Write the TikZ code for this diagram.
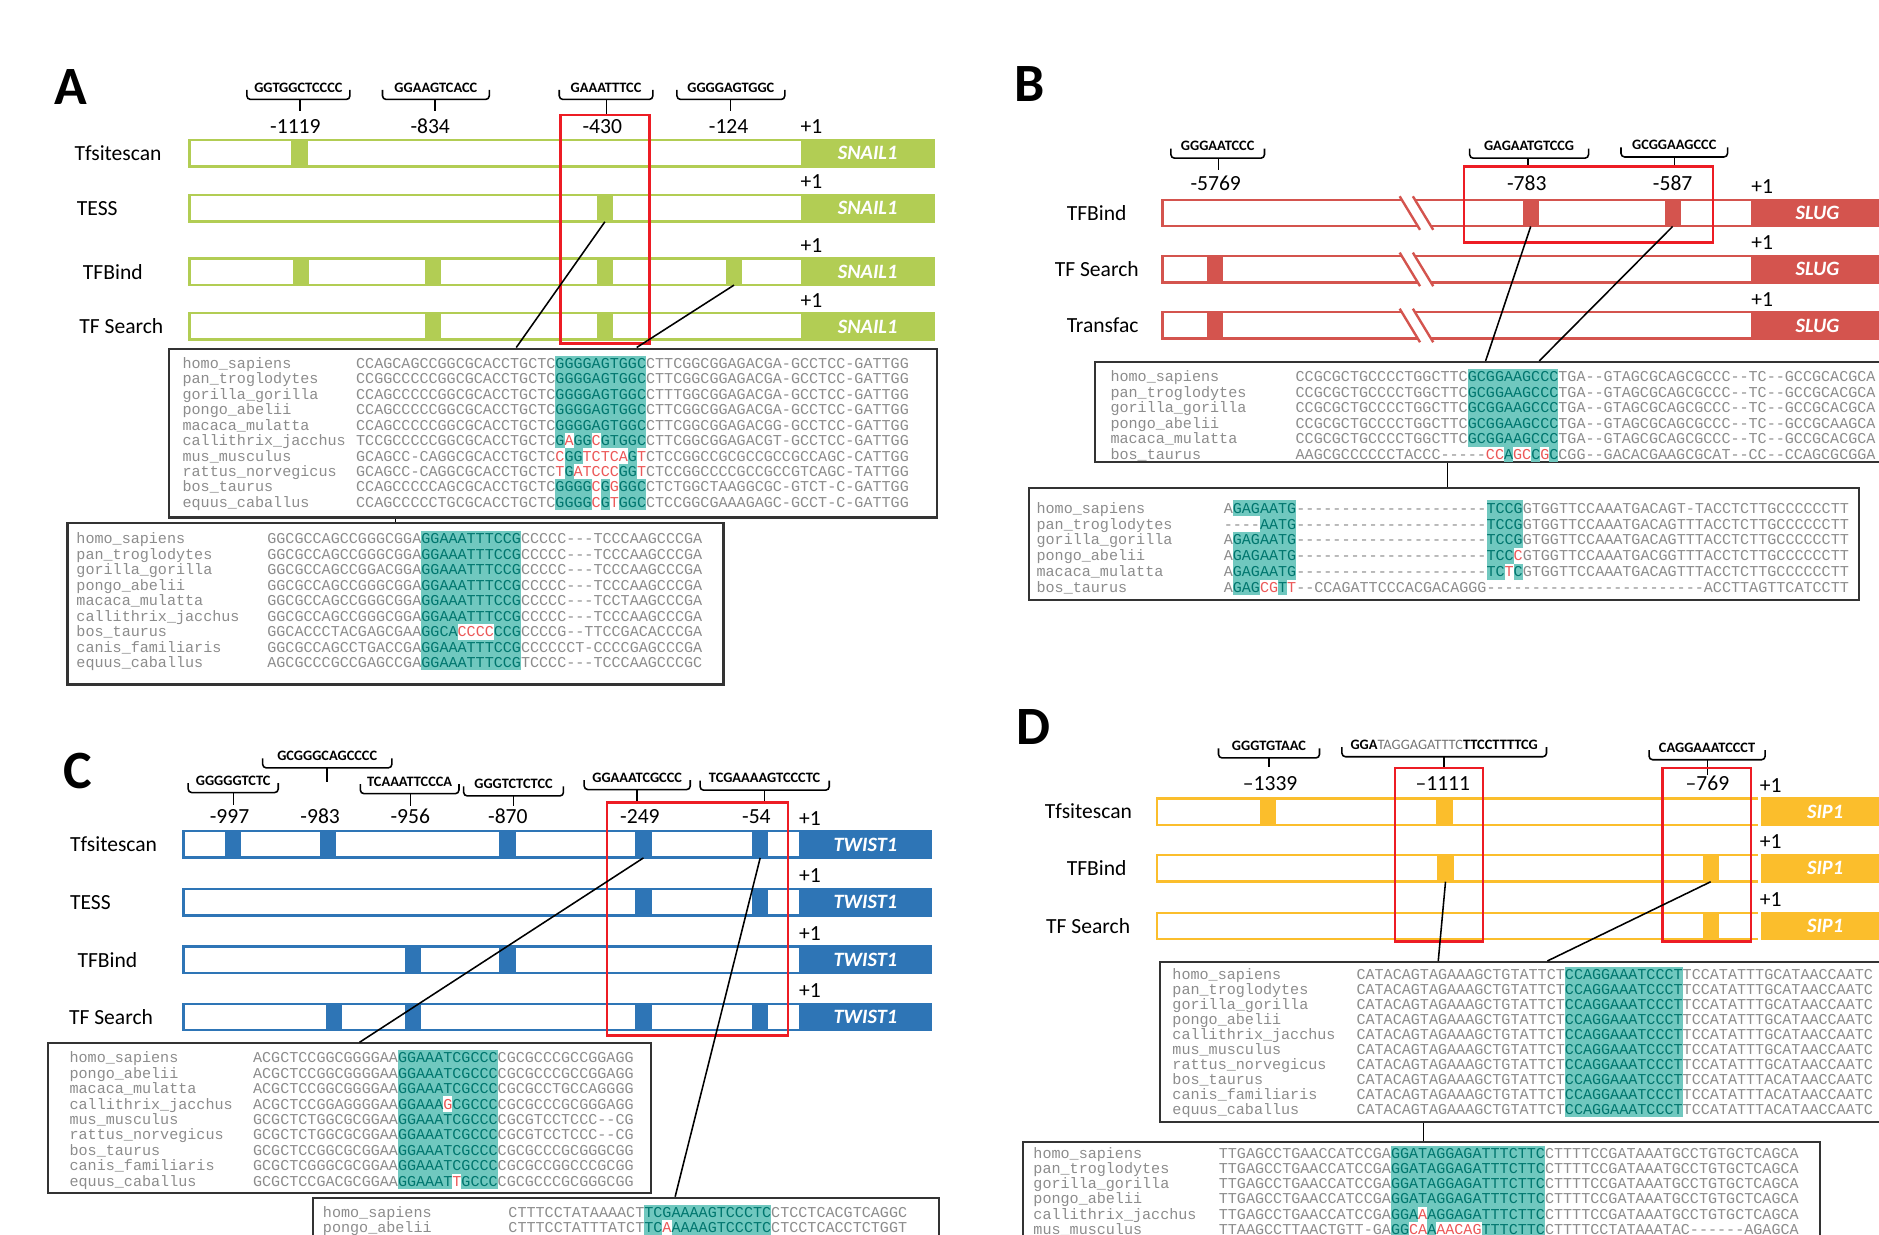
\documentclass[tikz,border=0pt]{standalone}
\usepackage{fontspec}
\setmainfont{Carlito}
\setmonofont{Liberation Mono}
\usetikzlibrary{positioning,calc}
\definecolor{snail}{RGB}{178,205,84}
\definecolor{slug}{RGB}{212,84,78}
\definecolor{twist}{RGB}{46,117,182}
\definecolor{sip}{RGB}{251,190,44}
\definecolor{boxred}{RGB}{237,28,36}
\definecolor{hlbg}{RGB}{112,200,191}
\definecolor{hltx}{RGB}{0,118,110}
\definecolor{seqgray}{RGB}{140,140,140}
\definecolor{misred}{RGB}{236,88,88}
\newlength\rowht \newlength\rowdp
\newcommand{\hlb}[1]{{\setlength{\fboxsep}{0pt}\colorbox{hlbg}{\rule[-\rowdp]{0pt}{\dimexpr\rowht+\rowdp\relax}\textcolor{hltx}{#1}}}}
\newcommand{\mis}[1]{\textcolor{misred}{#1}}
% bracket over a binding site: name, x1, x2, stem x, label y, stem end y, label
\newcommand{\siteb}[7]{%
  \node[motif] (#1) at ({(#2+#3)/2},#5) {#7};
  \draw[brace] ({#2},{#5+2}) -- ({#2},{#5+10}) -- ({#3},{#5+10}) -- ({#3},{#5+2});
  \draw[brace] ({#4},{#5+10}) -- ({#4},{#6});
}
\tikzstyle{bar} = [rectangle, line width=2pt, fill=white, minimum height=22pt, inner sep=0pt, anchor=west]
\tikzstyle{gene} = [rectangle, line width=2pt, minimum height=22pt, inner sep=0pt, anchor=east, text=white, font=\fontsize{17}{17}\selectfont\bfseries\itshape]
\tikzstyle{site} = [rectangle, minimum width=13.5pt, minimum height=22pt, inner sep=0pt, anchor=west]
\tikzstyle{tool} = [anchor=west, inner sep=0pt, font=\fontsize{18}{18}\selectfont]
\tikzstyle{posnum} = [inner sep=0pt, font=\fontsize{18}{18}\selectfont]
\tikzstyle{plusone} = [anchor=south west, inner sep=0pt, yshift=4pt, font=\fontsize{18}{18}\selectfont]
\tikzstyle{motif} = [inner sep=0pt, font=\fontsize{12}{12}\selectfont\bfseries]
\tikzstyle{panel} = [anchor=north west, inner sep=0pt, font=\fontsize{45}{45}\selectfont\bfseries]
\tikzstyle{brace} = [line width=1.3pt, rounded corners=3pt]
\tikzstyle{hit} = [draw=boxred, line width=2pt]
\tikzstyle{link} = [line width=1.3pt]
\tikzstyle{alnbox} = [rectangle, draw=black!80, line width=1.8pt, fill=white, inner sep=0pt, anchor=north west]
\tikzstyle{seqrow} = [anchor=base west, inner sep=0pt, text=seqgray, font=\ttfamily\fontsize{12.6}{12.6}\selectfont]
\begin{document}
\begin{tikzpicture}[x=1pt,y=-1pt]
\useasboundingbox (0,0) rectangle (1568,1030);
\clip (0,0) rectangle (1568,1030);

% ---------- A: SNAIL1
\node[panel] (pA) at (45,58) {A};
\siteb{aM1}{206}{292}{250.3}{73}{93}{GGTGGCTCCCC}
\siteb{aM2}{319.2}{408.3}{362.8}{73}{93}{GGAAGTCACC}
\siteb{aM3}{466.7}{544.8}{506}{73}{96}{GAAATTTCC}
\siteb{aM4}{564.9}{654.9}{609.4}{73}{93}{GGGGAGTGGC}
\node[posnum] (aN1) at (246.5,105.7) {-1119};
\node[posnum] (aN2) at (359,105.7) {-834};
\node[posnum] (aN3) at (502.6,105.7) {-430};
\node[posnum] (aN4) at (608,105.7) {-124};
\node[tool] (aL1) at (62,127.9) {Tfsitescan};
\node[tool] (aL2) at (64,173.9) {TESS};
\node[tool] (aL3) at (69,226.7) {TFBind};
\node[tool] (aL4) at (66,272.4) {TF Search};
\foreach \y [count=\i] in {127.9,173.9,226.7,272.4} {
  \node[bar, draw=snail, minimum width=621pt] (aT\i) at (157,\y) {};
  \node[gene, fill=snail, draw=snail, minimum width=110pt] (aG\i) at (aT\i.east) {SNAIL1};
  \node[plusone] (aO\i) at (aG\i.north west) {+1};
}
\node[site, fill=snail] (aS11) at (243,127.9) {};
\node[site, fill=snail] (aS21) at (497.8,173.9) {};
\foreach \x [count=\k] in {244,354.2,497.8,605.6} \node[site, fill=snail] (aS3\k) at (\x,226.7) {};
\foreach \x [count=\k] in {354.2,497.8} \node[site, fill=snail] (aS4\k) at (\x,272.4) {};
\draw[hit] (467.7,96) rectangle (541.9,286.5);
\node[alnbox, minimum width=641pt, minimum height=141pt] (aA1) at (140,290) {};
\node[alnbox, minimum width=547.4pt, minimum height=135pt] (aA2) at (55.4,435.3) {};
\coordinate (aC1) at (430.8,290);
\coordinate (aC2) at (531.3,290);
\coordinate (aC3) at (330,0);
\draw[link] (aS21.south) -- (aC1);
\draw[link] (aS34.south) -- (aC2);
\draw[link] (aA1.south -| aC3) -- (aA2.north -| aC3);
\setlength\rowht{10.6pt}\setlength\rowdp{2.3pt}
\foreach \nm/\seqs [count=\i from 0] in {
  homo\_sapiens/{CCAGCAGCCGGCGCACCTGCTC\hlb{GGGGAGTGGC}CTTCGGCGGAGACGA-GCCTCC-GATTGG},
  pan\_troglodytes/{CCGGCCCCCGGCGCACCTGCTC\hlb{GGGGAGTGGC}CTTCGGCGGAGACGA-GCCTCC-GATTGG},
  gorilla\_gorilla/{CCAGCCCCCGGCGCACCTGCTC\hlb{GGGGAGTGGC}CTTTGGCGGAGACGA-GCCTCC-GATTGG},
  pongo\_abelii/{CCAGCCCCCGGCGCACCTGCTC\hlb{GGGGAGTGGC}CTTCGGCGGAGACGA-GCCTCC-GATTGG},
  macaca\_mulatta/{CCAGCCCCCGGCGCACCTGCTC\hlb{GGGGAGTGGC}CTTCGGCGGAGACGG-GCCTCC-GATTGG},
  callithrix\_jacchus/{TCCGCCCCCGGCGCACCTGCTC\hlb{G}\mis{A}\hlb{GG}\mis{C}\hlb{GTGGC}CTTCGGCGGAGACGT-GCCTCC-GATTGG},
  mus\_musculus/{GCAGCC-CAGGCGCACCTGCTC\mis{C}\hlb{GG}\mis{TCTCA}\hlb{G}\mis{T}CTCCGGCCGCGCCGCCGCCAGC-CATTGG},
  rattus\_norvegicus/{GCAGCC-CAGGCGCACCTGCTC\mis{T}\hlb{G}\mis{ATCCC}\hlb{GG}\mis{T}CTCCGGCCCCGCCGCCGTCAGC-TATTGG},
  bos\_taurus/{CCAGCCCCCAGCGCACCTGCTC\hlb{GGGG}\mis{C}\hlb{G}\mis{G}\hlb{GGC}CTCTGGCTAAGGCGC-GTCT-C-GATTGG},
  equus\_caballus/{CCAGCCCCCTGCGCACCTGCTC\hlb{GGGG}\mis{C}\hlb{G}\mis{T}\hlb{GGC}CTCCGGCGAAAGAGC-GCCT-C-GATTGG}} {
  \node[seqrow] (aA1n\i) at (152.2,{307.35+12.9*\i}) {\nm};
  \node[seqrow] (aA1s\i) at (297,{307.35+12.9*\i}) {\seqs};
}
\foreach \nm/\seqs [count=\i from 0] in {
  homo\_sapiens/{GGCGCCAGCCGGGCGGA\hlb{GGAAATTTCCG}CCCCC---TCCCAAGCCCGA},
  pan\_troglodytes/{GGCGCCAGCCGGGCGGA\hlb{GGAAATTTCCG}CCCCC---TCCCAAGCCCGA},
  gorilla\_gorilla/{GGCGCCAGCCGGACGGA\hlb{GGAAATTTCCG}CCCCC---TCCCAAGCCCGA},
  pongo\_abelii/{GGCGCCAGCCGGGCGGA\hlb{GGAAATTTCCG}CCCCC---TCCCAAGCCCGA},
  macaca\_mulatta/{GGCGCCAGCCGGGCGGA\hlb{GGAAATTTCCG}CCCCC---TCCTAAGCCCGA},
  callithrix\_jacchus/{GGCGCCAGCCGGGCGGA\hlb{GGAAATTTCCG}CCCCC---TCCCAAGCCCGA},
  bos\_taurus/{GGCACCCTACGAGCGAA\hlb{GGCA}\mis{CCCC}\hlb{CCG}CCCCG--TTCCGACACCCGA},
  canis\_familiaris/{GGCGCCAGCCTGACCGA\hlb{GGAAATTTCCG}CCCCCCT-CCCCGAGCCCGA},
  equus\_caballus/{AGCGCCCGCCGAGCCGA\hlb{GGAAATTTCCG}TCCCC---TCCCAAGCCCGC}} {
  \node[seqrow] (aA2n\i) at (63.6,{453.95+12.9*\i}) {\nm};
  \node[seqrow] (aA2s\i) at (222.9,{453.95+12.9*\i}) {\seqs};
}

% ---------- B: SLUG
\node[panel] (pB) at (846,55) {B};
\siteb{bM1}{977.1}{1055.2}{1016.8}{122}{142}{GGGAATCCC}
\siteb{bM2}{1226.4}{1325.6}{1275.1}{122}{139}{GAGAATGTCCG}
\siteb{bM3}{1352.7}{1441.6}{1397.2}{121}{139}{GCGGAAGCCC}
\node[posnum] (bN1) at (1014.5,153) {-5769};
\node[posnum] (bN2) at (1274.1,153) {-783};
\node[posnum] (bN3) at (1395.8,153) {-587};
\node[tool] (bL1) at (890,177.8) {TFBind};
\node[tool] (bL2) at (880,224.8) {TF Search};
\node[tool] (bL3) at (890,271.6) {Transfac};
\foreach \y [count=\i] in {177.8,224.8,271.6} {
  \node[bar, draw=slug, minimum width=600.9pt] (bT\i) at (969.1,\y) {};
  \node[gene, fill=slug, draw=slug, minimum width=108.7pt] (bG\i) at (bT\i.east) {SLUG};
  \node[plusone] (bO\i) at (bG\i.north west) {+1};
  \fill[white] (1168,{\y-14}) -- (1179,{\y-14}) -- (1196,{\y+14}) -- (1185,{\y+14}) -- cycle;
  \draw[slug, line width=2pt] (1168,{\y-14}) -- (1185,{\y+14}) (1179,{\y-14}) -- (1196,{\y+14});
}
\node[site, fill=slug] (bS11) at (1270.4,177.8) {};
\node[site, fill=slug] (bS12) at (1388.8,177.8) {};
\node[site, fill=slug] (bS21) at (1006.6,224.8) {};
\node[site, fill=slug] (bS31) at (1006.6,271.6) {};
\draw[hit] (1221.7,139.1) rectangle (1429.4,202.5);
\node[alnbox, minimum width=707pt, minimum height=83.5pt] (bA1) at (912.8,301.2) {};
\node[alnbox, minimum width=692.6pt, minimum height=94pt] (bA2) at (858,406.1) {};
\coordinate (bC1) at (1239.7,301.2);
\coordinate (bC2) at (1284.5,301.2);
\coordinate (bC3) at (1208,0);
\draw[link] (bS11.south) -- (bC1);
\draw[link] (bS12.south) -- (bC2);
\draw[link] (bA1.south -| bC3) -- (bA2.north -| bC3);
\setlength\rowht{10.63pt}\setlength\rowdp{2.33pt}
\foreach \nm/\seqs [count=\i from 0] in {
  homo\_sapiens/{CCGCGCTGCCCCTGGCTTC\hlb{GCGGAAGCCC}TGA--GTAGCGCAGCGCCC--TC--GCCGCACGCA},
  pan\_troglodytes/{CCGCGCTGCCCCTGGCTTC\hlb{GCGGAAGCCC}TGA--GTAGCGCAGCGCCC--TC--GCCGCACGCA},
  gorilla\_gorilla/{CCGCGCTGCCCCTGGCTTC\hlb{GCGGAAGCCC}TGA--GTAGCGCAGCGCCC--TC--GCCGCACGCA},
  pongo\_abelii/{CCGCGCTGCCCCTGGCTTC\hlb{GCGGAAGCCC}TGA--GTAGCGCAGCGCCC--TC--GCCGCAAGCA},
  macaca\_mulatta/{CCGCGCTGCCCCTGGCTTC\hlb{GCGGAAGCCC}TGA--GTAGCGCAGCGCCC--TC--GCCGCACGCA},
  bos\_taurus/{AAGCGCCCCCCTACCC-----\mis{CC}\hlb{A}\mis{GC}\hlb{C}\mis{G}\hlb{C}CGG--GACACGAAGCGCAT--CC--CCAGCGCGGA}} {
  \node[seqrow] (bA1n\i) at (926.5,{318.45+12.96*\i}) {\nm};
  \node[seqrow] (bA1s\i) at (1081,{318.45+12.96*\i}) {\seqs};
}
\setlength\rowht{10.75pt}\setlength\rowdp{2.45pt}
\foreach \nm/\seqs [count=\i from 0] in {
  homo\_sapiens/{A\hlb{GAGAATG}---------------------\hlb{TCCG}GTGGTTCCAAATGACAGT-TACCTCTTGCCCCCCTT},
  pan\_troglodytes/{----\hlb{AATG}---------------------\hlb{TCCG}GTGGTTCCAAATGACAGTTTACCTCTTGCCCCCCTT},
  gorilla\_gorilla/{A\hlb{GAGAATG}---------------------\hlb{TCCG}GTGGTTCCAAATGACAGTTTACCTCTTGCCCCCCTT},
  pongo\_abelii/{A\hlb{GAGAATG}---------------------\hlb{TCC}\mis{C}GTGGTTCCAAATGACGGTTTACCTCTTGCCCCCCTT},
  macaca\_mulatta/{A\hlb{GAGAATG}---------------------\hlb{TC}\mis{T}\hlb{C}GTGGTTCCAAATGACAGTTTACCTCTTGCCCCCCTT},
  bos\_taurus/{A\hlb{GAG}\mis{CG}\hlb{T}\mis{T}--CCAGATTCCCACGACAGGG------------------------ACCTTAGTTCATCCTT}} {
  \node[seqrow] (bA2n\i) at (864.8,{428.35+13.2*\i}) {\nm};
  \node[seqrow] (bA2s\i) at (1021,{428.35+13.2*\i}) {\seqs};
}

% ---------- C: TWIST1
\node[panel] (pC) at (52.6,628) {C};
\siteb{cM1}{157}{232.2}{194.8}{651.4}{671.7}{GGGGGTCTC}
\siteb{cM2}{219.2}{327}{272.9}{630.8}{652.3}{GCGGGCAGCCCC}
\siteb{cM3}{300.7}{383}{342.4}{652.3}{672.6}{TCAAATTCCCA}
\siteb{cM4}{386.9}{470.2}{428.6}{654.2}{672.6}{GGGTCTCTCC}
\siteb{cM5}{487.5}{576}{531.5}{648.9}{669.8}{GGAAATCGCCC}
\siteb{cM6}{584.2}{692}{637.9}{649.4}{669.8}{TCGAAAAGTCCCTC}
\node[posnum] (cN1) at (191.5,681.5) {-997};
\node[posnum] (cN2) at (267.2,681.5) {-983};
\node[posnum] (cN3) at (342.4,681.5) {-956};
\node[posnum] (cN4) at (423.8,681.5) {-870};
\node[posnum] (cN5) at (534,681.5) {-249};
\node[posnum] (cN6) at (631.2,681.5) {-54};
\node[tool] (cL1) at (58.3,704.7) {Tfsitescan};
\node[tool] (cL2) at (58.3,752.8) {TESS};
\node[tool] (cL3) at (64.5,800.8) {TFBind};
\node[tool] (cL4) at (57.4,848.7) {TF Search};
\foreach \y [count=\i] in {704.7,752.8,800.8,848.7} {
  \node[bar, draw=twist, minimum width=623.6pt] (cT\i) at (152.2,\y) {};
  \node[gene, fill=twist, draw=twist, minimum width=109.2pt] (cG\i) at (cT\i.east) {TWIST1};
  \node[plusone] (cO\i) at (cG\i.north west) {+1};
}
\foreach \x [count=\k] in {187.6,266.7,416.6,530,627.4} \node[site, fill=twist] (cS1\k) at (\x,704.7) {};
\foreach \x [count=\k] in {530,627.4} \node[site, fill=twist] (cS2\k) at (\x,752.8) {};
\foreach \x [count=\k] in {338,416.6} \node[site, fill=twist] (cS3\k) at (\x,800.8) {};
\foreach \x [count=\k] in {271.9,338,530,627.4} \node[site, fill=twist] (cS4\k) at (\x,848.7) {};
\draw[hit] (506.7,669.8) rectangle (657.5,864);
\node[alnbox, minimum width=503.1pt, minimum height=124.6pt] (cA1) at (39.5,869.8) {};
\node[alnbox, minimum width=523pt, minimum height=120pt] (cA2) at (260,998.6) {};
\coordinate (cC1) at (300,869.8);
\coordinate (cC2) at (563.4,998.6);
\draw[link] (cS14.south) -- (cC1);
\draw[link] (cS15.south) -- (cC2);
\setlength\rowht{10.6pt}\setlength\rowdp{2.3pt}
\foreach \nm/\seqs [count=\i from 0] in {
  homo\_sapiens/{ACGCTCCGGCGGGGAA\hlb{GGAAATCGCCC}CGCGCCCGCCGGAGG},
  pongo\_abelii/{ACGCTCCGGCGGGGAA\hlb{GGAAATCGCCC}CGCGCCCGCCGGAGG},
  macaca\_mulatta/{ACGCTCCGGCGGGGAA\hlb{GGAAATCGCCC}CGCGCCTGCCAGGGG},
  callithrix\_jacchus/{ACGCTCCGGAGGGGAA\hlb{GGAAA}\mis{G}\hlb{CGCCC}CGCGCCCGCGGGAGG},
  mus\_musculus/{GCGCTCTGGCGCGGAA\hlb{GGAAATCGCCC}CGCGTCCTCCC--CG},
  rattus\_norvegicus/{GCGCTCTGGCGCGGAA\hlb{GGAAATCGCCC}CGCGTCCTCCC--CG},
  bos\_taurus/{GCGCTCCGGCGCGGAA\hlb{GGAAATCGCCC}CGCGCCCGCGGGCGG},
  canis\_familiaris/{GCGCTCGGGCGCGGAA\hlb{GGAAATCGCCC}CGCGCCGGCCCGCGG},
  equus\_caballus/{GCGCTCCGACGCGGAA\hlb{GGAAAT}\mis{T}\hlb{GCCC}CGCGCCCGCGGGCGG}} {
  \node[seqrow] (cA1n\i) at (57.9,{886.75+12.9*\i}) {\nm};
  \node[seqrow] (cA1s\i) at (211,{886.75+12.9*\i}) {\seqs};
}
\setlength\rowht{10.4pt}\setlength\rowdp{2.1pt}
\foreach \nm/\seqs [count=\i from 0] in {
  homo\_sapiens/{CTTTCCTATAAAACT\hlb{TCGAAAAGTCCCTC}CTCCTCACGTCAGGC},
  pongo\_abelii/{CTTTCCTATTTATCT\hlb{TC}\mis{A}\hlb{AAAAGTCCCTC}CTCCTCACCTCTGGT}} {
  \node[seqrow] (cA2n\i) at (269.3,{1016.05+12.5*\i}) {\nm};
  \node[seqrow] (cA2s\i) at (424.1,{1016.05+12.5*\i}) {\seqs};
}

% ---------- D: SIP1
\node[panel] (pD) at (848,592) {D};
\siteb{dM1}{1016.8}{1101.1}{1059}{622.5}{640}{GGGTGTAAC}
\siteb{dM2}{1119.8}{1290.5}{1204.9}{621.5}{641.1}{GGA{\mdseries\color{black!55}TAGGAGATTTC}TTCCTTTTCG}
\siteb{dM3}{1376.1}{1473}{1424.8}{624}{646.7}{CAGGAAATCCCT}
\node[posnum] (dN1) at (1059.9,653.7) {–1339};
\node[posnum] (dN2) at (1204,653.7) {–1111};
\node[posnum] (dN3) at (1424.8,653.7) {–769};
\node[tool] (dL1) at (871.8,677.3) {Tfsitescan};
\node[tool] (dL2) at (890,724.6) {TFBind};
\node[tool] (dL3) at (872.8,772.7) {TF Search};
\foreach \y [count=\i] in {677.3,724.6,772.7} {
  \node[bar, draw=sip, minimum width=611.3pt] (dT\i) at (964.4,\y) {};
  \node[gene, fill=sip, draw=sip, minimum width=107.4pt] (dG\i) at (dT\i.east) {SIP1};
  \draw[white, line width=2pt] (dG\i.north west) -- (dG\i.south west);
  \node[plusone] (dO\i) at (dG\i.north west) {+1};
}
\node[site, fill=sip] (dS11) at (1051,677.3) {};
\node[site, fill=sip] (dS12) at (1198.4,677.3) {};
\node[site, fill=sip] (dS21) at (1199.3,724.6) {};
\node[site, fill=sip] (dS22) at (1420.6,724.6) {};
\node[site, fill=sip] (dS31) at (1420.6,772.7) {};
\draw[hit] (1164.2,641.1) rectangle (1237.6,785.8);
\draw[hit] (1387.3,641.1) rectangle (1461.3,785.8);
\node[alnbox, minimum width=650pt, minimum height=133.5pt] (dA1) at (967.4,801.9) {};
\node[alnbox, minimum width=665pt, minimum height=120pt] (dA2) at (853,951.8) {};
\coordinate (dC1) at (1200.2,801.9);
\coordinate (dC2) at (1291.3,801.9);
\coordinate (dC3) at (1188,0);
\draw[link] (dS21.south) -- (dC1);
\draw[link] (dS22.south) -- (dC2);
\draw[link] (dA1.south -| dC3) -- (dA2.north -| dC3);
\setlength\rowht{10.4pt}\setlength\rowdp{2.1pt}
\foreach \nm/\seqs [count=\i from 0] in {
  homo\_sapiens/{CATACAGTAGAAAGCTGTATTCT\hlb{CCAGGAAATCCCT}TCCATATTTGCATAACCAATC},
  pan\_troglodytes/{CATACAGTAGAAAGCTGTATTCT\hlb{CCAGGAAATCCCT}TCCATATTTGCATAACCAATC},
  gorilla\_gorilla/{CATACAGTAGAAAGCTGTATTCT\hlb{CCAGGAAATCCCT}TCCATATTTGCATAACCAATC},
  pongo\_abelii/{CATACAGTAGAAAGCTGTATTCT\hlb{CCAGGAAATCCCT}TCCATATTTGCATAACCAATC},
  callithrix\_jacchus/{CATACAGTAGAAAGCTGTATTCT\hlb{CCAGGAAATCCCT}TCCATATTTGCATAACCAATC},
  mus\_musculus/{CATACAGTAGAAAGCTGTATTCT\hlb{CCAGGAAATCCCT}TCCATATTTGCATAACCAATC},
  rattus\_norvegicus/{CATACAGTAGAAAGCTGTATTCT\hlb{CCAGGAAATCCCT}TCCATATTTGCATAACCAATC},
  bos\_taurus/{CATACAGTAGAAAGCTGTATTCT\hlb{CCAGGAAATCCCT}TCCATATTTACATAACCAATC},
  canis\_familiaris/{CATACAGTAGAAAGCTGTATTCT\hlb{CCAGGAAATCCCT}TCCATATTTACATAACCAATC},
  equus\_caballus/{CATACAGTAGAAAGCTGTATTCT\hlb{CCAGGAAATCCCT}TCCATATTTACATAACCAATC}} {
  \node[seqrow] (dA1n\i) at (978.2,{817.75+12.5*\i}) {\nm};
  \node[seqrow] (dA1s\i) at (1131.8,{817.75+12.5*\i}) {\seqs};
}
\setlength\rowht{10.5pt}\setlength\rowdp{2.2pt}
\foreach \nm/\seqs [count=\i from 0] in {
  homo\_sapiens/{TTGAGCCTGAACCATCCGA\hlb{GGATAGGAGATTTCTTC}CTTTTCCGATAAATGCCTGTGCTCAGCA},
  pan\_troglodytes/{TTGAGCCTGAACCATCCGA\hlb{GGATAGGAGATTTCTTC}CTTTTCCGATAAATGCCTGTGCTCAGCA},
  gorilla\_gorilla/{TTGAGCCTGAACCATCCGA\hlb{GGATAGGAGATTTCTTC}CTTTTCCGATAAATGCCTGTGCTCAGCA},
  pongo\_abelii/{TTGAGCCTGAACCATCCGA\hlb{GGATAGGAGATTTCTTC}CTTTTCCGATAAATGCCTGTGCTCAGCA},
  callithrix\_jacchus/{TTGAGCCTGAACCATCCGA\hlb{GGA}\mis{A}\hlb{AGGAGATTTCTTC}CTTTTCCGATAAATGCCTGTGCTCAGCA},
  mus\_musculus/{TTAAGCCTTAACTGTT-GA\hlb{GG}\mis{CA}\hlb{A}\mis{AACAG}\hlb{TTTCTTC}CTTTTCCTATAAATAC------AGAGCA}} {
  \node[seqrow] (dA2n\i) at (862.2,{966.55+12.7*\i}) {\nm};
  \node[seqrow] (dA2s\i) at (1016.9,{966.55+12.7*\i}) {\seqs};
}
\end{tikzpicture}
\end{document}
